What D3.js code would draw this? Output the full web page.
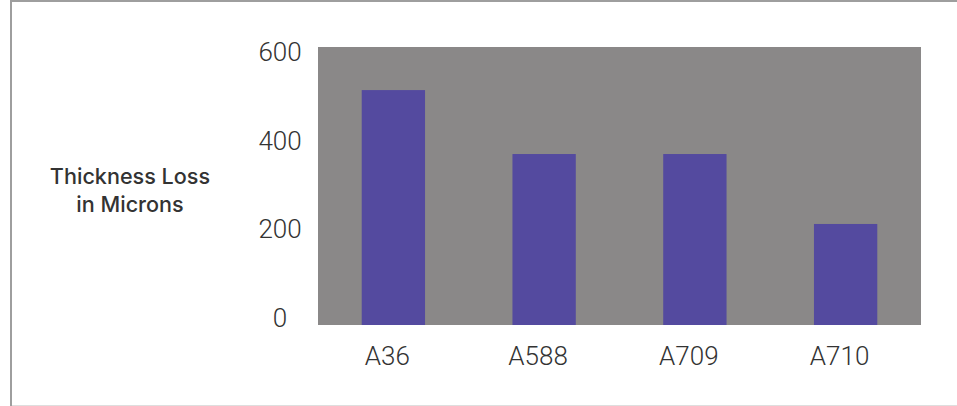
<!DOCTYPE html>
<html>
<head>
<meta charset="utf-8">
<script src="https://cdn.jsdelivr.net/npm/d3@7"></script>
<style>
  body { margin: 0; background: #fff; }
  svg { display: block; }
  .tick-label { font-family: Roboto, "Liberation Sans", sans-serif; font-weight: 300; font-size: 26px; fill: #333; }
  .axis-title { font-family: Inter, "Liberation Sans", Arial, sans-serif; font-weight: 500; font-size: 21.6px; fill: #333; }
</style>
</head>
<body>
<div id="chart"></div>
<script>
// data
var categories = ["A36", "A588", "A709", "A710"];
var thicknessLoss = [507, 369, 369, 218];
var yTicks = [0, 200, 400, 600];

var width = 957, height = 406;
var margin = {top: 47, right: 36, bottom: 81, left: 318};
var plotW = width - margin.left - margin.right,
    plotH = height - margin.top - margin.bottom;

var svg = d3.select("#chart")
  .append("svg")
  .attr("width", width)
  .attr("height", height);

// frame lines
svg.append("line").attr("x1", 11).attr("x2", width).attr("y1", 1).attr("y2", 1)
  .attr("stroke", "#9e9e9e").attr("stroke-width", 2);
svg.append("line").attr("x1", 11).attr("x2", 11).attr("y1", 0).attr("y2", height)
  .attr("stroke", "#9e9e9e").attr("stroke-width", 2);
svg.append("line").attr("x1", 12).attr("x2", width).attr("y1", 405.5).attr("y2", 405.5)
  .attr("stroke", "#dedede").attr("stroke-width", 1);

var g = svg.append("g")
  .attr("transform", "translate(" + margin.left + "," + margin.top + ")");

// scales
var x = d3.scaleBand()
  .domain(categories)
  .range([0, plotW])
  .paddingInner(0.58)
  .paddingOuter(0.29);

var y = d3.scaleLinear()
  .domain([0, 600])
  .range([plotH, 0]);

// tick labels sit a little off the gridline positions in the original
var yLabel = d3.scaleLinear()
  .domain([0, 600])
  .range([plotH - 7, 5]);

// plot background
g.append("rect")
  .attr("width", plotW)
  .attr("height", plotH)
  .attr("fill", "#8a8888");

// bars
g.selectAll(".bar")
  .data(thicknessLoss)
  .enter()
  .append("rect")
  .attr("class", "bar")
  .attr("x", function(d, i) { return x(categories[i]); })
  .attr("width", x.bandwidth())
  .attr("y", function(d) { return y(d); })
  .attr("height", function(d) { return plotH - y(d); })
  .attr("fill", "#544a9f");

// y labels
g.selectAll(".ylab")
  .data(yTicks)
  .enter()
  .append("text")
  .attr("class", "tick-label")
  .attr("x", -38)
  .attr("y", function(d) { return yLabel(d); })
  .attr("dy", "0.35em")
  .attr("text-anchor", "middle")
  .text(function(d) { return d; });

// x labels
g.selectAll(".xlab")
  .data(categories)
  .enter()
  .append("text")
  .attr("class", "tick-label")
  .attr("x", function(d) { return x(d) + x.bandwidth() / 2 - 6; })
  .attr("y", plotH + 40)
  .attr("text-anchor", "middle")
  .text(function(d) { return d; });

// axis title
var title = svg.append("text")
  .attr("class", "axis-title")
  .attr("text-anchor", "middle");
title.append("tspan").attr("x", 130).attr("y", 184).text("Thickness Loss");
title.append("tspan").attr("x", 130).attr("y", 212).text("in Microns");
</script>
</body>
</html>
